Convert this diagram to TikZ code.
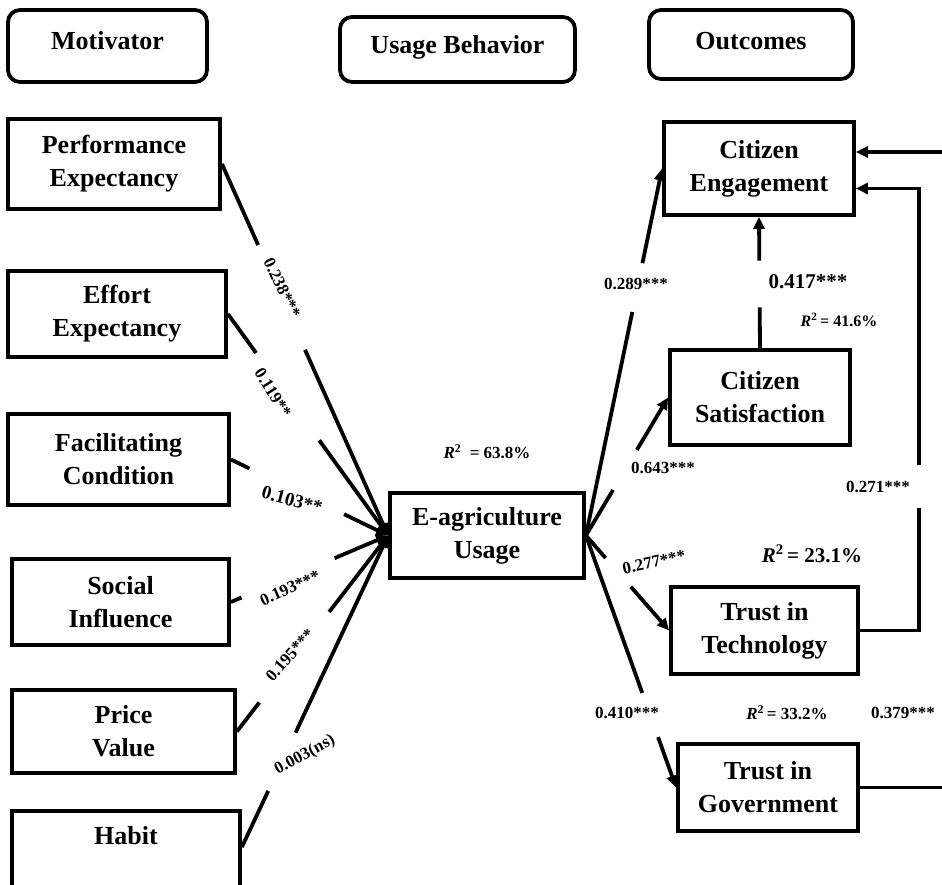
\documentclass[tikz,border=0pt]{standalone}
\usepackage{fontspec}
\setmainfont{Liberation Serif}
\usetikzlibrary{arrows.meta}
\newcommand{\Rsq}{\textit{R}\textsuperscript{2}}
\tikzset{
  box/.style={draw, line width=3.8pt, align=center, inner sep=0pt,
    font=\bfseries\fontsize{26}{33}\selectfont},
  hdr/.style={draw, line width=3.8pt, rounded corners=12pt, inner sep=0pt},
  hdrtext/.style={inner sep=0pt, font=\bfseries\fontsize{26}{30}\selectfont},
  plain/.style={align=center, inner sep=0pt, font=\bfseries\fontsize{26}{33}\selectfont},
  conn/.style={line width=3.8pt},
  arr/.style={line width=3.8pt, -{Triangle[length=12pt,width=11pt]}},
  coef/.style={inner sep=1pt, font=\bfseries\fontsize{17}{20}\selectfont},
  coefbig/.style={inner sep=1pt, font=\bfseries\fontsize{21}{24}\selectfont},
}
\begin{document}
\begin{tikzpicture}[x=1pt,y=-1pt]
\useasboundingbox (0,0) rectangle (942,885);
\clip (0,0) rectangle (942,885);
% headers
\node[hdr, minimum width=199pt, minimum height=72pt] (hm) at (107.5,46) {};
\node[hdrtext] (hmt) at (107.5,41) {Motivator};
\node[hdr, minimum width=235pt, minimum height=65pt] (hu) at (457.5,49.5) {};
\node[hdrtext] (hut) at (457.5,47) {Usage Behavior};
\node[hdr, minimum width=204pt, minimum height=69pt] (ho) at (751,44.5) {};
\node[hdrtext] (hot) at (751,41) {Outcomes};
% left boxes
\node[box, minimum width=212pt, minimum height=90pt] (pe) at (114,164) {Performance\\Expectancy};
\node[box, minimum width=218pt, minimum height=86pt] (ee) at (117,314) {Effort\\Expectancy};
\node[box, minimum width=221pt, minimum height=91pt] (fc) at (118.5,459.5) {Facilitating\\Condition};
\node[box, minimum width=217pt, minimum height=86pt] (si) at (120.5,602) {Social\\Influence};
\node[box, minimum width=223pt, minimum height=83pt] (pv) at (123.5,731.5) {Price\\Value};
\node[box, minimum width=228pt, minimum height=100pt] (hb) at (126,861) {};
\node[plain] (hbt) at (126,836) {Habit};
\coordinate (hbe) at ([yshift=14pt]hb.east);
% center
\node[box, minimum width=194pt, minimum height=85pt] (eu) at (487,535.5) {E-agriculture\\Usage};
% right boxes
\node[box, minimum width=190pt, minimum height=93pt] (ce) at (759,168.5) {Citizen\\Engagement};
\node[box, minimum width=180pt, minimum height=95pt] (cs) at (760,397.5) {Citizen\\Satisfaction};
\node[box, minimum width=187pt, minimum height=87pt] (tt) at (764.5,630.5) {Trust in\\Technology};
\node[box, minimum width=180pt, minimum height=87pt] (tg) at (768,787.5) {Trust in\\Government};

% left connectors with gaps
\path (pe.east) -- (eu.west) coordinate[pos=0.218] (pe1) coordinate[pos=0.50] (pe2);
\draw[conn] (pe.east) -- (pe1); \draw[arr] (pe2) -- (eu.west);
\path (ee.east) -- (eu.west) coordinate[pos=0.176] (ee1) coordinate[pos=0.57] (ee2);
\draw[conn] (ee.east) -- (ee1); \draw[arr] (ee2) -- (eu.west);
\path (fc.east) -- (eu.west) coordinate[pos=0.118] (fc1) coordinate[pos=0.72] (fc2);
\draw[conn] (fc.east) -- (fc1); \draw[arr] (fc2) -- (eu.west);
\path (si.east) -- (eu.west) coordinate[pos=0.068] (si1) coordinate[pos=0.66] (si2);
\draw[conn] (si.east) -- (si1); \draw[arr] (si2) -- (eu.west);
\path (pv.east) -- (eu.west) coordinate[pos=0.148] (pv1) coordinate[pos=0.61] (pv2);
\draw[conn] (pv.east) -- (pv1); \draw[arr] (pv2) -- (eu.west);
\path (hbe) -- (eu.west) coordinate[pos=0.18] (hb1) coordinate[pos=0.367] (hb2);
\draw[conn] (hbe) -- (hb1); \draw[arr] (hb2) -- (eu.west);

% left labels
\node[coef, rotate=-64] (l1) at (282,288) {0.238***};
\node[coef, rotate=-58] (l2) at (273,393) {0.119**};
\node[coef, rotate=-15, font=\bfseries\fontsize{19}{22}\selectfont] (l3) at (292,500) {0.103**};
\node[coef, rotate=24] (l4) at (290,588) {0.193***};
\node[coef, rotate=48] (l5) at (290,655) {0.195***};
\node[coef, rotate=28] (l6) at (305,755) {0.003(ns)};

% right connectors from E-agriculture Usage
\path (eu.east) -- (ce.west) coordinate[pos=0.609] (c1) coordinate[pos=0.742] (c2);
\draw[conn] (eu.east) -- (c1); \draw[arr] (c2) -- (ce.west);
\path (eu.east) -- (cs.west) coordinate[pos=0.33] (s1) coordinate[pos=0.62] (s2);
\draw[conn] (eu.east) -- (s1); \draw[arr] (s2) -- (cs.west);
\path (eu.east) -- (tt.west) coordinate[pos=0.237] (t1) coordinate[pos=0.54] (t2);
\draw[conn] (eu.east) -- (t1); \draw[arr] (t2) -- (tt.west);
\path (eu.east) -- (tg.west) coordinate[pos=0.625] (g1) coordinate[pos=0.80] (g2);
\draw[conn] (eu.east) -- (g1); \draw[arr] (g2) -- (tg.west);

% Citizen Satisfaction -> Citizen Engagement
\path (cs.north) -- (ce.south) coordinate[pos=0.31] (cs1) coordinate[pos=0.667] (cs2);
\draw[conn] (cs.north) -- (cs1); \draw[arr] (cs2) -- (ce.south);

% Trust in Technology -> Citizen Engagement
\coordinate (tta) at (919,508);
\coordinate (ttb) at (919,465);
\draw[conn] (tt.east) -| (tta);
\draw[arr] (ttb) |- ([yshift=-20pt]ce.east);

% Trust in Government -> Citizen Engagement (route runs off the right edge)
\coordinate (tgr) at (962,470);
\draw[arr] (tg.east) -| (tgr) |- ([yshift=16.5pt]ce.east);

% right labels
\node[coef] (r0) at (487,452) {\Rsq\ \ = 63.8\%};
\node[coef] (r1) at (636,284) {0.289***};
\node[coefbig] (r2) at (808,282) {0.417***};
\node[coef, font=\bfseries\fontsize{16}{19}\selectfont] (r3) at (839,320) {\Rsq\,= 41.6\%};
\node[coef] (r4) at (663,468) {0.643***};
\node[coef] (r5) at (878,487) {0.271***};
\node[coef, rotate=12] (r6) at (654,562) {0.277***};
\node[coefbig] (r7) at (812,554) {\Rsq\,= 23.1\%};
\node[coef] (r8) at (627,713) {0.410***};
\node[coef] (r9) at (787,713) {\Rsq\,= 33.2\%};
\node[coef] (r10) at (903,713) {0.379***};
\end{tikzpicture}
\end{document}
